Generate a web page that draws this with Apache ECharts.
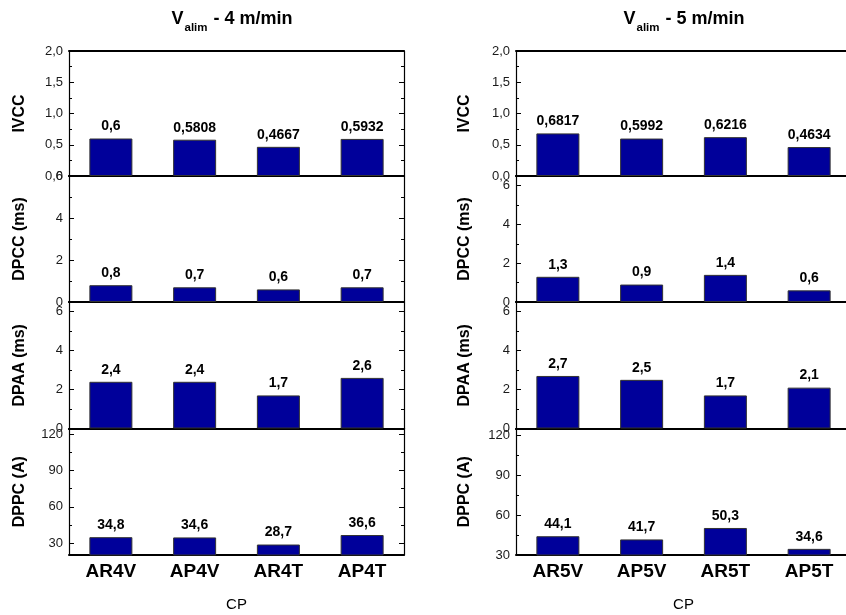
<!DOCTYPE html>
<html><head><meta charset="utf-8">
<script src="https://cdn.jsdelivr.net/npm/echarts@6/dist/echarts.min.js"></script>
<style>html,body{margin:0;padding:0;background:#fff}#c{width:846px;height:615px}</style>
</head><body><div id="c"></div>
<script>
// ---- data ----
const categories4 = ['AR4V', 'AP4V', 'AR4T', 'AP4T'];
const categories5 = ['AR5V', 'AP5V', 'AR5T', 'AP5T'];
const ivcc4 = [0.6, 0.5808, 0.4667, 0.5932];
const dpcc4 = [0.8, 0.7, 0.6, 0.7];
const dpaa4 = [2.4, 2.4, 1.7, 2.6];
const dppc4 = [34.8, 34.6, 28.7, 36.6];
const ivcc5 = [0.6817, 0.5992, 0.6216, 0.4634];
const dpcc5 = [1.3, 0.9, 1.4, 0.6];
const dpaa5 = [2.7, 2.5, 1.7, 2.1];
const dppc5 = [44.1, 41.7, 50.3, 34.6];
const metricNames = ['IVCC', 'DPCC (ms)', 'DPAA (ms)', 'DPPC (A)'];
const ivccTicks = [0, 0.5, 1, 1.5, 2];
const msTicks = [0, 2, 4, 6];
const dppcTicks = [30, 60, 90, 120];
const titleSuffix4 = ' - 4 m/min';
const titleSuffix5 = ' - 5 m/min';

// ---- layout / style ----
const FONT = '"Liberation Sans", Arial, sans-serif';
const BAR = '#00009a';
const rowTop = [51, 176, 302, 428.5];
const rowH = [125, 126, 126.5, 126.5];
const tickLists = [ivccTicks, msTicks, msTicks, dppcTicks];
const steps = [0.5, 2, 2, 30];
const panels = [
  { left: 69, right: 442, cats: categories4, data: [ivcc4, dpcc4, dpaa4, dppc4],
    ranges: [[0, 2], [0, 6], [0, 6.5], [20, 125]], nameGap: 41, tx: 232, suffix: titleSuffix4 },
  { left: 516, right: -5, cats: categories5, data: [ivcc5, dpcc5, dpaa5, dppc5],
    ranges: [[0, 2], [0, 6.5], [0, 6.5], [30, 125]], nameGap: 43, tx: 684, suffix: titleSuffix5 }
];

const grid = [], xAxis = [], yAxis = [], series = [], graphic = [];
const fmt = (v, r) => r === 0 ? v.toFixed(1).replace('.', ',') : String(v);

panels.forEach((p, pi) => {
  graphic.push({
    type: 'text', x: p.tx, y: 18.7,
    style: {
      text: '{v|V}{s|alim}{v|' + p.suffix + '}',
      align: 'center', verticalAlign: 'middle',
      rich: {
        v: { fontFamily: FONT, fontSize: 18, fontWeight: 'bold', fill: '#000', color: '#000' },
        s: { fontFamily: FONT, fontSize: 11.5, fontWeight: 'bold', fill: '#000', color: '#000', padding: [18, 1, 0, 1] }
      }
    }
  });
  for (let r = 0; r < 4; r++) {
    const g = grid.length;
    grid.push({ left: p.left, right: p.right, top: rowTop[r], height: rowH[r], outerBoundsMode: 'none', containLabel: false });
    const xi = xAxis.length;
    xAxis.push({
      type: 'category', gridIndex: g, data: p.cats, position: 'bottom',
      axisLine: { onZero: false, lineStyle: { color: '#000', width: 2 } },
      axisTick: { inside: true, length: 3, alignWithLabel: false, lineStyle: { color: '#000', width: 1 } },
      axisLabel: { show: r === 3, interval: 0, margin: 7, color: '#000', fontFamily: FONT, fontSize: 19, fontWeight: 'bold' },
      name: r === 3 ? 'CP' : '', nameLocation: 'middle', nameGap: 42,
      nameTextStyle: { color: '#000', fontFamily: FONT, fontSize: 15 }
    });
    xAxis.push({
      type: 'category', gridIndex: g, data: p.cats, position: 'top',
      axisLine: { onZero: false, lineStyle: { color: '#000', width: 2 } },
      axisTick: { inside: true, length: 5, alignWithLabel: true, lineStyle: { color: '#000', width: 1 } },
      axisLabel: { show: false }
    });
    xAxis.push({
      type: 'category', gridIndex: g, data: p.cats, position: 'top', offset: 0,
      axisLine: { show: false, onZero: false },
      axisTick: { inside: true, length: 3, alignWithLabel: false, lineStyle: { color: '#000', width: 1 } },
      axisLabel: { show: false }
    });
    const [mn, mx] = p.ranges[r];
    const ticks = tickLists[r];
    const common = {
      type: 'value', gridIndex: g, min: mn, max: mx,
      minInterval: steps[r], maxInterval: steps[r], splitNumber: 4,
      splitLine: { show: false },
      axisLine: { show: true, onZero: false, lineStyle: { color: '#000', width: 1.2 } },
      axisTick: { show: true, inside: true, length: 5, lineStyle: { color: '#000', width: 1 } },
      minorTick: { show: true, splitNumber: 2, length: 3, lineStyle: { color: '#000', width: 1 } }
    };
    const yi = yAxis.length;
    yAxis.push(Object.assign({}, common, {
      position: 'left',
      axisLabel: {
        show: true, margin: 6, color: '#1a1a1a', fontFamily: FONT, fontSize: 13,
        showMinLabel: true, showMaxLabel: true,
        formatter: v => ticks.some(t => Math.abs(t - v) < 1e-9) ? fmt(v, r) : ''
      },
      name: metricNames[r], nameLocation: 'middle', nameGap: p.nameGap,
      nameTextStyle: { color: '#000', fontFamily: FONT, fontSize: 16, fontWeight: 'bold' }
    }));
    yAxis.push(Object.assign({}, common, { position: 'right', axisLabel: { show: false } }));
    series.push({
      type: 'bar', xAxisIndex: xi, yAxisIndex: yi, data: p.data[r], barWidth: 43,
      itemStyle: { color: BAR, borderColor: '#333', borderWidth: 1 },
      label: {
        show: true, position: 'top', distance: 5, color: '#000',
        fontFamily: FONT, fontSize: 14, fontWeight: 'bold',
        formatter: d => String(d.value).replace('.', ',')
      }
    });
  }
});

const chart = echarts.init(document.getElementById('c'), null, { renderer: 'canvas' });
chart.setOption({ animation: false, backgroundColor: '#fff', grid, xAxis, yAxis, series, graphic });
</script>
</body></html>
